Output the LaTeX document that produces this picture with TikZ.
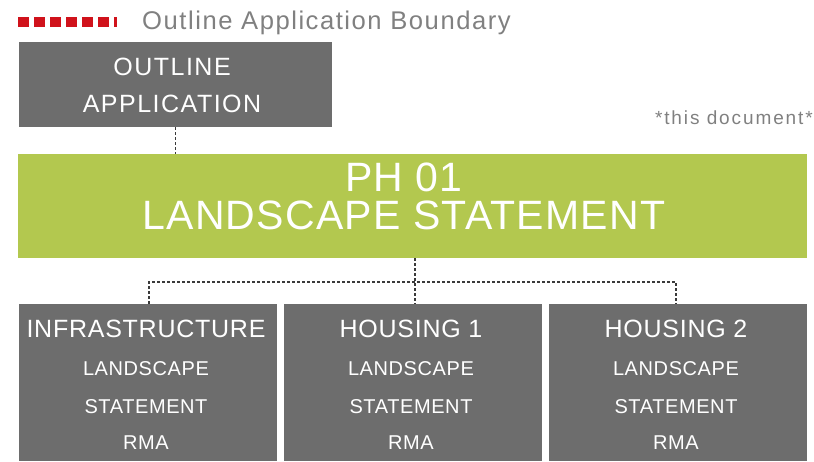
\documentclass[tikz,border=0pt]{standalone}
\usepackage{fontspec}
\setmainfont{Liberation Sans}
\newfontfamily\boxfont[LetterSpace=3]{Liberation Sans}
\newfontfamily\widefont[LetterSpace=6]{Liberation Sans}
\newfontfamily\notefont[LetterSpace=10]{Liberation Sans}
\usetikzlibrary{positioning}

\definecolor{boxgray}{HTML}{6D6D6D}
\definecolor{phgreen}{HTML}{B3C84F}
\definecolor{textgray}{HTML}{808080}
\definecolor{bndred}{HTML}{D0121B}
\definecolor{linkgray}{HTML}{3A3A3A}

\begin{document}
\begin{tikzpicture}[x=1pt,y=-1pt,
    graybox/.style={fill=boxgray, draw=none, minimum width=258pt, minimum height=157pt, inner sep=0pt},
    greenbox/.style={fill=phgreen, draw=none, inner sep=0pt},
    txt/.style={text=white, anchor=base, inner sep=0pt},
    link/.style={draw=linkgray, line width=1.2pt, dash pattern=on 3pt off 2pt}]
    \useasboundingbox (0,0) rectangle (814,461);

    %Boundary legend
    \draw[bndred, line width=10pt, dash pattern=on 10.5pt off 5.5pt] (18,22) -- (117,22);
    \node[anchor=base west, inner sep=0pt, text=textgray] (legend) at (142,29.5)
        {\widefont\fontsize{25.6}{30}\selectfont Outline Application Boundary};
    \node[anchor=base east, inner sep=0pt, text=textgray] (note) at (813,124)
        {\notefont\fontsize{19}{23}\selectfont *this document*};

    %Outline application
    \node[greenbox, fill=boxgray, minimum width=313pt, minimum height=85pt] (outline) at (175.5,84.5) {};
    \node[txt] (outline1) at (172,75) {\widefont\fontsize{25}{30}\selectfont OUTLINE};
    \node[txt] (outline2) at (172,112) {\widefont\fontsize{25}{30}\selectfont APPLICATION};

    %Phase statement
    \node[greenbox, minimum width=789pt, minimum height=104pt] (ph) at (412.5,206) {};
    \node[txt] (ph1) at (404,191) {\boxfont\fontsize{41}{48}\selectfont PH 01};
    \node[txt] (ph2) at (404,229) {\boxfont\fontsize{41}{48}\selectfont LANDSCAPE STATEMENT};

    %Sub statements
    \node[graybox] (infra) at (148,382.5) {};
    \node[graybox] (hou1) at (413,382.5) {};
    \node[graybox] (hou2) at (678,382.5) {};

    \foreach \b/\t in {infra/INFRASTRUCTURE, hou1/HOUSING 1, hou2/HOUSING 2}{
        \node[txt] (\b-title) at ([xshift=-2pt]\b.north |- 0,337) {\boxfont\fontsize{25}{30}\selectfont \t};
        \node[txt] (\b-l1) at ([xshift=-2pt]\b.north |- 0,375) {\boxfont\fontsize{20}{24}\selectfont LANDSCAPE};
        \node[txt] (\b-l2) at ([xshift=-2pt]\b.north |- 0,413) {\boxfont\fontsize{20}{24}\selectfont STATEMENT};
        \node[txt] (\b-l3) at ([xshift=-2pt]\b.north |- 0,449) {\boxfont\fontsize{20}{24}\selectfont RMA};
    }

    %Links
    \draw[link] (outline.south) -- (outline.south |- ph.north);
    \coordinate (split) at ([xshift=2pt]hou1.north |- 0,282);
    \draw[link] ([xshift=2pt]hou1.north |- ph.south) -- ([xshift=2pt]hou1.north);
    \draw[link] ([xshift=1pt]infra.north) -- ([xshift=1pt]infra.north |- split)
        -- ([xshift=-2pt]hou2.north |- split) -- ([xshift=-2pt]hou2.north);

\end{tikzpicture}
\end{document}
